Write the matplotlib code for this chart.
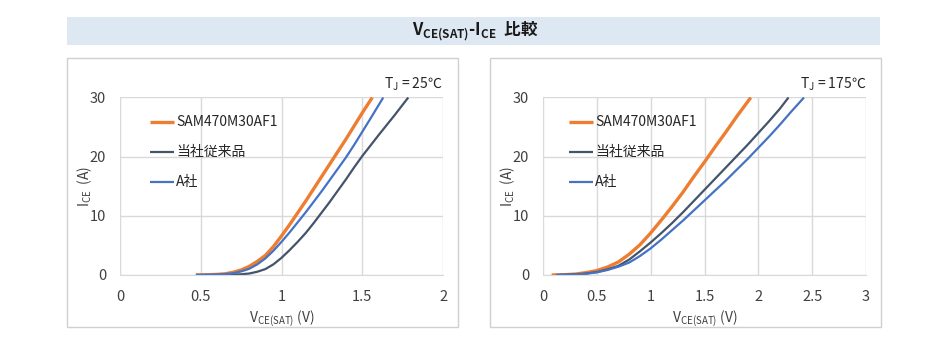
import matplotlib
matplotlib.use('Agg')
import matplotlib.pyplot as plt
from matplotlib.patches import Rectangle

plt.rcParams['font.family'] = ['Noto Sans CJK JP', 'DejaVu Sans']

# Tj = 25°C
v25_new = [0.47, 0.55, 0.6, 0.65, 0.7, 0.75, 0.8, 0.85, 0.9, 0.95, 1.0, 1.05, 1.1, 1.15, 1.2, 1.25, 1.3, 1.35, 1.4, 1.45, 1.5, 1.562]
i25_new = [0, 0.05, 0.1, 0.2, 0.45, 0.85, 1.45, 2.3, 3.3, 4.8, 6.6, 8.5, 10.5, 12.5, 14.6, 16.7, 18.8, 20.9, 23.0, 25.2, 27.4, 30]
v25_old = [0.47, 0.6, 0.7, 0.75, 0.8, 0.85, 0.9, 0.95, 1.0, 1.05, 1.1, 1.15, 1.2, 1.25, 1.3, 1.35, 1.4, 1.45, 1.5, 1.6, 1.7, 1.785]
i25_old = [0, 0.02, 0.08, 0.12, 0.25, 0.55, 1.0, 1.8, 2.9, 4.2, 5.6, 7.1, 8.8, 10.6, 12.4, 14.3, 16.2, 18.2, 20.1, 23.6, 27.0, 30]
v25_a = [0.47, 0.55, 0.6, 0.65, 0.7, 0.75, 0.8, 0.85, 0.9, 0.95, 1.0, 1.05, 1.1, 1.15, 1.2, 1.25, 1.3, 1.35, 1.4, 1.45, 1.5, 1.55, 1.63]
i25_a = [0, 0.03, 0.07, 0.15, 0.3, 0.6, 1.05, 1.8, 2.8, 4.1, 5.6, 7.2, 8.9, 10.6, 12.4, 14.2, 16.1, 18.0, 19.9, 22.0, 24.2, 26.4, 30]

# Tj = 175°C
v175_new = [0.08, 0.2, 0.3, 0.4, 0.5, 0.6, 0.7, 0.8, 0.9, 1.0, 1.1, 1.2, 1.3, 1.4, 1.5, 1.6, 1.7, 1.8, 1.93]
i175_new = [0, 0.05, 0.15, 0.4, 0.75, 1.35, 2.2, 3.5, 5.1, 7.1, 9.3, 11.6, 14.0, 16.6, 19.1, 21.7, 24.2, 26.8, 30]
v175_old = [0.12, 0.3, 0.4, 0.5, 0.6, 0.7, 0.8, 0.9, 1.0, 1.1, 1.2, 1.3, 1.4, 1.5, 1.6, 1.7, 1.8, 1.9, 2.0, 2.1, 2.2, 2.28]
i175_old = [0, 0.1, 0.25, 0.5, 0.95, 1.55, 2.6, 4.0, 5.5, 7.1, 8.8, 10.6, 12.5, 14.4, 16.3, 18.2, 20.1, 22.0, 24.0, 26.0, 28.1, 30]
v175_a = [0.12, 0.3, 0.4, 0.5, 0.6, 0.7, 0.8, 0.9, 1.0, 1.1, 1.2, 1.3, 1.4, 1.5, 1.6, 1.7, 1.8, 1.9, 2.0, 2.1, 2.2, 2.3, 2.424]
i175_a = [0, 0.08, 0.2, 0.45, 0.85, 1.4, 2.1, 3.2, 4.5, 6.0, 7.6, 9.2, 10.9, 12.6, 14.3, 16.0, 17.8, 19.6, 21.5, 23.4, 25.4, 27.5, 30]

names = ['SAM470M30AF1', '当社従来品', 'A社']
colors = ['#ed7d31', '#44546a', '#4472c4']
widths = [2.4, 1.6, 1.6]

fig = plt.figure(figsize=(9.5, 3.43), dpi=100)

# title band
fig.add_artist(Rectangle((67 / 950, 1 - 45 / 343), 813 / 950, 28 / 343,
                         transform=fig.transFigure, facecolor='#dee8f3', edgecolor='none', zorder=-5))
fig.text(475 / 950, 1 - 31 / 343, r'$\mathregular{V_{CE(SAT)}}$-$\mathregular{I_{CE}}$  比較',
         ha='center', va='center', fontsize=12, fontweight='bold', color='#1a1a1a')

panels = [
    (67, 120, 2, [0, 0.5, 1, 1.5, 2], ['0', '0.5', '1', '1.5', '2'], 'T$_\\mathregular{J}$ = 25℃', 0.087,
     [(v25_new, i25_new), (v25_old, i25_old), (v25_a, i25_a)]),
    (490, 543, 3, [0, 0.5, 1, 1.5, 2, 2.5, 3], ['0', '0.5', '1', '1.5', '2', '2.5', '3'], 'T$_\\mathregular{J}$ = 175℃', 0.074,
     [(v175_new, i175_new), (v175_old, i175_old), (v175_a, i175_a)]),
]

for box_x, ax_x, xmax, xticks, xlabels, tj, leg_x, series in panels:
    fig.add_artist(Rectangle((box_x / 950, 16 / 343), 391 / 950, 269 / 343,
                             transform=fig.transFigure, facecolor='none', edgecolor='#d0d0d0',
                             linewidth=1, zorder=-5))
    ax = fig.add_axes([ax_x / 950, 68 / 343, 323 / 950, 177.5 / 343])
    ax.patch.set_alpha(0)
    for (v, i), name, c, w in zip(series, names, colors, widths):
        ax.plot(v, i, color=c, linewidth=w, label=name, solid_capstyle='butt')
    ax.set_xlim(0, xmax)
    ax.set_ylim(0, 30)
    ax.set_xticks(xticks)
    ax.set_xticklabels(xlabels)
    ax.set_yticks([0, 10, 20, 30])
    ax.grid(True, color='#d9d9d9', linewidth=1)
    ax.set_axisbelow(True)
    for s in ['top', 'right', 'left']:
        ax.spines[s].set_visible(False)
    ax.spines['bottom'].set_color('#d9d9d9')
    ax.tick_params(length=0, labelsize=10.5, labelcolor='#404040')
    ax.tick_params(axis='x', pad=11)
    ax.tick_params(axis='y', pad=10)
    ax.set_xlabel(r'$\mathregular{V_{CE(SAT)}}$ (V)', fontsize=10, color='#404040', labelpad=3)
    ax.set_ylabel(r'$\mathregular{I_{CE}}$  (A)', fontsize=10, color='#404040', labelpad=-3)
    ax.text(1.0, 1.075, tj, transform=ax.transAxes, ha='right', va='center', fontsize=10, color='#262626')
    leg = ax.legend(loc='upper left', bbox_to_anchor=(leg_x - 0.01, 0.93), frameon=False, fontsize=10,
                    handlelength=1.7, handletextpad=0.15, labelspacing=1.15, borderaxespad=0)
    for t in leg.get_texts():
        t.set_color('#262626')

fig.savefig('out.png', dpi=100)
